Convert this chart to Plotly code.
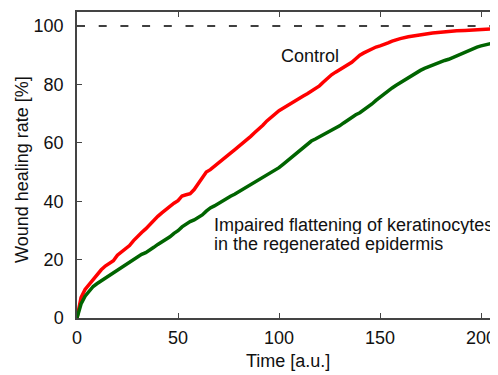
import plotly.graph_objects as go

# Time [a.u.] and healing rate [%] for the control simulation (red)
control_t = [0, 1, 2, 4, 6, 8, 10, 12, 14, 16, 18, 20, 22, 24, 26, 28, 30, 32, 34, 36, 38, 40,
             42, 44, 46, 48, 50, 52, 54, 56, 58, 60, 62, 64, 66, 68, 70, 72, 74, 76, 78, 80,
             82, 84, 86, 88, 90, 92, 94, 96, 98, 100, 102, 104, 106, 108, 110, 112, 114, 116,
             118, 120, 122, 124, 126, 128, 130, 132, 134, 136, 138, 140, 142, 144, 146, 148,
             150, 152, 154, 156, 158, 160, 164, 168, 172, 176, 180, 184, 188, 192, 196, 200,
             204, 208, 210]
control_v = [0, 4.0, 7.0, 9.8, 11.5, 13.5, 15.2, 16.5, 17.8, 18.7, 19.6, 21.5, 22.6, 23.5, 24.8,
             26.5, 28, 29.3, 30.5, 32, 33.5, 34.8, 36, 37.2, 38.2, 39.3, 40.2, 41.8, 42.2, 42.6,
             44, 46, 48.5, 50, 50.8, 52, 53.2, 54.3, 55.3, 56.5, 57.6, 58.7, 59.8, 61, 62.2,
             63.5, 64.7, 66, 67.5, 68.8, 70, 71, 71.8, 72.7, 73.6, 74.4, 75.1, 76, 76.8, 77.6,
             78.4, 79.5, 80.8, 82.2, 83.3, 84.2, 85, 85.8, 86.7, 87.6, 88.8, 90, 90.8, 91.5,
             92.2, 92.8, 93.2, 93.6, 94.2, 94.8, 95.3, 95.7, 96.3, 96.8, 97.2, 97.6, 97.9, 98.2,
             98.4, 98.5, 98.7, 98.9, 99, 99.1, 99.2]

# Impaired flattening of keratinocytes (green)
impaired_t = [0, 1, 2, 4, 6, 8, 10, 12, 14, 16, 18, 20, 22, 24, 26, 28, 30, 32, 34, 36, 38, 40,
              42, 44, 46, 48, 50, 52, 54, 56, 58, 60, 62, 64, 66, 68, 70, 72, 74, 76, 78, 80,
              82, 84, 86, 88, 90, 92, 94, 96, 98, 100, 102, 104, 106, 108, 110, 112, 114, 116,
              118, 120, 122, 124, 126, 128, 130, 132, 134, 136, 138, 140, 142, 144, 146, 148,
              150, 152, 154, 156, 158, 160, 162, 164, 166, 168, 170, 172, 174, 176, 178, 180,
              182, 184, 186, 188, 190, 192, 194, 196, 198, 200, 202, 204, 206, 208, 210]
impaired_v = [0, 2.8, 4.8, 7.5, 9.3, 10.8, 11.8, 12.7, 13.7, 14.6, 15.5, 16.5, 17.5, 18.4, 19.2, 20,
              21, 21.8, 22.4, 23.2, 24.2, 25.2, 26, 26.8, 27.8, 29, 29.9, 31.2, 32.2, 33, 33.6,
              34.4, 35.3, 36.6, 37.7, 38.4, 39.3, 40.2, 41, 41.7, 42.4, 43.2, 44, 44.8, 45.6,
              46.4, 47.2, 48, 48.9, 49.8, 50.6, 51.5, 52.6, 53.7, 54.8, 56, 57.3, 58.3, 59.2,
              60.6, 61.3, 62, 62.8, 63.6, 64.3, 65, 65.8, 66.8, 67.8, 68.8, 69.6, 70.3, 71.2,
              72.2, 73.3, 74.5, 75.6, 76.8, 77.8, 78.8, 79.7, 80.6, 81.5, 82.4, 83.3, 84.1,
              84.8, 85.5, 86.1, 86.7, 87.3, 87.8, 88.2, 88.6, 89.2, 89.9, 90.6, 91.2, 91.8,
              92.3, 92.8, 93.2, 93.6, 93.9, 94.2, 94.4, 94.6]

full_level = 100
x_ticks = [0, 50, 100, 150, 200]
y_ticks = [0, 20, 40, 60, 80, 100]

FONT = "Liberation Sans, Arial, sans-serif"
AXCOL = "#444444"
TXT = "#111111"

fig = go.Figure()
fig.add_trace(go.Scatter(x=control_t, y=control_v, mode="lines",
                         line=dict(color="#ff0000", width=3.5), showlegend=False))
fig.add_trace(go.Scatter(x=impaired_t, y=impaired_v, mode="lines",
                         line=dict(color="#006400", width=3.5), showlegend=False))

fig.add_shape(type="line", xref="paper", x0=0, x1=1, yref="y", y0=full_level, y1=full_level,
              line=dict(color="black", width=1.5, dash="8px,13.7px"), layer="below")

fig.add_annotation(x=100, y=89.8, text="Control", showarrow=False, xanchor="left",
                   yanchor="middle", font=dict(size=18, color=TXT, family=FONT))
fig.add_annotation(x=66.8, y=32.1, text="Impaired flattening of keratinocytes", showarrow=False,
                   xanchor="left", yanchor="middle", height=19,
                   font=dict(size=18, color=TXT, family=FONT))
fig.add_annotation(x=66.8, y=25.4, text="in the regenerated epidermis", showarrow=False,
                   xanchor="left", yanchor="middle", height=19,
                   font=dict(size=18, color=TXT, family=FONT))

fig.add_annotation(xref="paper", yref="paper", x=-0.1306, y=0.484, text="Wound healing rate [%]",
                   textangle=-90, showarrow=False, xanchor="center", yanchor="middle",
                   font=dict(size=18, color=TXT, family=FONT))
fig.add_annotation(xref="paper", yref="paper", x=0.5, y=-0.139, text="Time [a.u.]",
                   showarrow=False, xanchor="center", yanchor="middle",
                   font=dict(size=18, color=TXT, family=FONT))

fig.update_layout(
    width=490, height=367,
    margin=dict(l=69, r=0, t=4, b=57),
    paper_bgcolor="white", plot_bgcolor="white",
    font=dict(family=FONT, size=18, color=TXT),
    xaxis=dict(range=[0, 208.4], tickvals=x_ticks, ticks="inside", ticklen=5, tickwidth=1,
               tickcolor=AXCOL, showline=True, linecolor=AXCOL, linewidth=1.5, mirror="ticks",
               showgrid=False, zeroline=False, ticklabelstandoff=3, automargin=False),
    yaxis=dict(range=[0, 104.8], tickvals=y_ticks, ticks="inside", ticklen=5, tickwidth=1,
               tickcolor=AXCOL, showline=True, linecolor=AXCOL, linewidth=1.5,
               showgrid=False, zeroline=False, ticklabelstandoff=8, automargin=False),
)

fig.write_html("out.html")
